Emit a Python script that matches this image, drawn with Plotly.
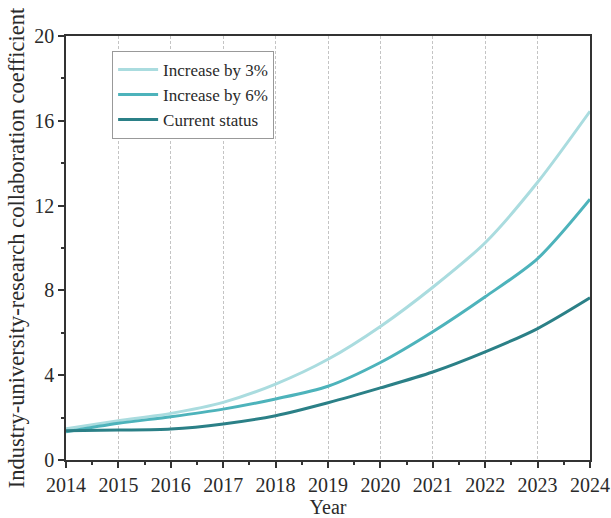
import plotly.graph_objects as go

years = [2014, 2015, 2016, 2017, 2018, 2019, 2020, 2021, 2022, 2023, 2024]
increase_3 = [1.47, 1.85, 2.2, 2.72, 3.58, 4.75, 6.3, 8.15, 10.25, 13.1, 16.45]
increase_6 = [1.33, 1.73, 2.04, 2.4, 2.88, 3.48, 4.6, 6.05, 7.7, 9.5, 12.3]
current = [1.38, 1.41, 1.46, 1.7, 2.09, 2.7, 3.4, 4.15, 5.1, 6.2, 7.65]

names = ["Increase by 3%", "Increase by 6%", "Current status"]
colors = ["#aadcdf", "#4db3bb", "#2b8087"]
series = [increase_3, increase_6, current]

font_family = "Liberation Serif, Times New Roman, serif"
txt = "#2a2a2a"

fig = go.Figure()
for name, vals, c in zip(names, series, colors):
    fig.add_trace(go.Scatter(x=years, y=vals, name=name, mode="lines",
                             line=dict(color=c, width=3, shape="spline", smoothing=0.8)))

fig.update_layout(
    width=611, height=518,
    margin=dict(l=66, r=21, t=36, b=58, autoexpand=False),
    paper_bgcolor="white", plot_bgcolor="white",
    font=dict(family=font_family, color=txt),
    showlegend=True,
    legend=dict(x=0.088, y=0.965, xanchor="left", yanchor="top",
                bgcolor="white", bordercolor="#999999", borderwidth=1,
                font=dict(size=17, family=font_family, color=txt),
                tracegroupgap=0, itemwidth=40),
    xaxis=dict(
        range=[2014, 2024], tickmode="linear", tick0=2014, dtick=1,
        automargin=False,
        ticks="outside", ticklen=6, tickwidth=1.5, tickcolor="#333333",
        showline=True, linecolor="#333333", linewidth=1.5, mirror=True,
        showgrid=True, gridcolor="#c4c4c4", griddash="3px,2px", gridwidth=1,
        zeroline=False,
        tickfont=dict(size=20, family=font_family, color=txt),
        title=dict(text="Year", font=dict(size=20, family=font_family, color=txt), standoff=2),
        minor=dict(dtick=0.5, ticks="outside", ticklen=3, tickcolor="#333333", showgrid=False),
    ),
    yaxis=dict(
        range=[0, 20], tickmode="linear", tick0=0, dtick=4,
        automargin=False,
        ticks="outside", ticklen=6, tickwidth=1.5, tickcolor="#333333",
        showline=True, linecolor="#333333", linewidth=1.5, mirror=True,
        showgrid=False, zeroline=False,
        tickfont=dict(size=20, family=font_family, color=txt),
        title=dict(text="Industry-university-research collaboration coefficient",
                   font=dict(size=22.5, family=font_family, color=txt), standoff=3),
        minor=dict(dtick=2, ticks="outside", ticklen=3, tickcolor="#333333", showgrid=False),
    ),
)

fig.write_html("out.html")
